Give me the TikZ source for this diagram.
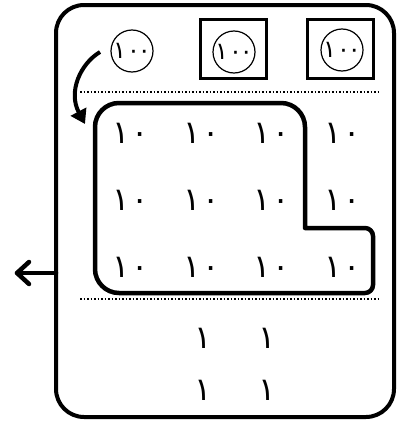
\documentclass[tikz,border=0pt]{standalone}
\usepackage{fontspec}
\newfontfamily\arabicfont[Script=Arabic]{DejaVu Sans}
\usetikzlibrary{arrows.meta}
\begin{document}
\begin{tikzpicture}[x=1pt,y=-1pt,
  thickline/.style={line width=4pt},
  num/.style={font=\arabicfont\fontsize{32}{32}\selectfont, inner sep=0pt},
  hundred/.style={circle, draw, line width=1.2pt, minimum size=42pt, inner sep=0pt},
  circtext/.style={font=\arabicfont\fontsize{24}{24}\selectfont, inner sep=0pt},
  sqbox/.style={draw, line width=3.5pt, minimum width=66pt, minimum height=59pt, inner sep=0pt},
  sep/.style={dotted, line width=1.5pt}]
\useasboundingbox (0,0) rectangle (401,423);
\draw[thickline, rounded corners=28pt] (56,5) rectangle (394,417);
% arrow out
\coordinate (a1) at (56,273);
\coordinate (a2) at (17,273);
\coordinate (ab1) at (29,262);
\coordinate (ab2) at (29,284);
\draw[line width=4.5pt, line cap=round, line join=round] (a1) -- (a2);
\draw[line width=4.5pt, line cap=round, line join=round] (ab1) -- (a2) -- (ab2);
% top hundreds
\node[hundred] (h1) at (132,51) {};
\node[circtext] (n1) at (h1.center) {١\kern1pt٠\kern-2pt٠};
\node[sqbox] (b2) at (233.5,49) {};
\node[hundred] (h2) at (234,52) {};
\node[circtext] (n2) at (h2.center) {١\kern1pt٠\kern-2pt٠};
\node[sqbox] (b3) at (340.5,49) {};
\node[hundred] (h3) at (342,50) {};
\node[circtext] (n3) at (h3.center) {١\kern1pt٠\kern-2pt٠};
% curved arrow
\coordinate (c1) at (100,52);
\coordinate (c2) at (85,124);
\draw[thickline, -{Triangle[length=14pt,width=17pt]}] (c1) .. controls (80,64) and (68,92) .. (c2);
% separators
\coordinate (s1a) at (80,92); \coordinate (s1b) at (381,92);
\coordinate (s2a) at (80,299); \coordinate (s2b) at (381,299);
\draw[sep] (s1a) -- (s1b);
\draw[sep] (s2a) -- (s2b);
% L region
\draw[line width=4.5pt, line join=round]
  (119,103) -- (281,103) arc[start angle=-90, end angle=0, radius=24]
  -- (305,228) -- (365,228) arc[start angle=-90, end angle=0, radius=8]
  -- (373,285) arc[start angle=0, end angle=90, radius=8]
  -- (119,293) arc[start angle=90, end angle=180, radius=24]
  -- (95,127) arc[start angle=180, end angle=270, radius=24] -- cycle;
% tens
\foreach \r/\yy in {1/133,2/200,3/267}{
  \foreach \c/\xx in {1/131,2/202,3/272,4/343}{
    \node[num] (t\r\c) at (\xx,\yy) {١\kern2pt٠};
  }
}
% ones
\node[num] (o1) at (203,338) {١};
\node[num] (o2) at (267,338) {١};
\node[num] (o3) at (203,390) {١};
\node[num] (o4) at (267,390) {١};
\end{tikzpicture}
\end{document}
